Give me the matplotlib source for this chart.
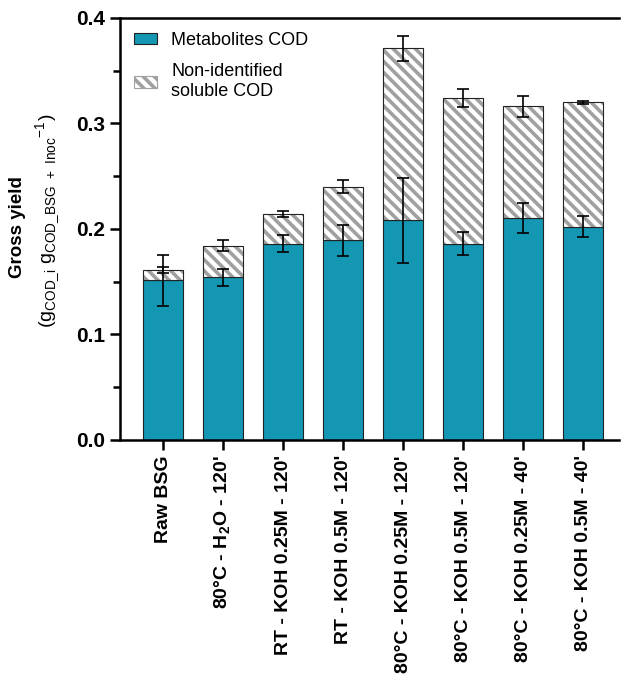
import matplotlib
matplotlib.use("Agg")
import matplotlib.pyplot as plt
from matplotlib.patches import Patch
import numpy as np

plt.rcParams['font.family'] = ['Liberation Sans', 'DejaVu Sans']
plt.rcParams['mathtext.fontset'] = 'custom'
plt.rcParams['mathtext.rm'] = 'Liberation Sans'
plt.rcParams['mathtext.bf'] = 'Liberation Sans:bold'
plt.rcParams['hatch.linewidth'] = 2.6

# data
categories = ["Raw BSG", r"80°C - H$_\mathbf{2}$O - 120'", "RT - KOH 0.25M - 120'",
              "RT - KOH 0.5M - 120'", "80°C - KOH 0.25M - 120'", "80°C - KOH 0.5M - 120'",
              "80°C - KOH 0.25M - 40'", "80°C - KOH 0.5M - 40'"]
metabolites = [0.151, 0.154, 0.186, 0.189, 0.208, 0.186, 0.210, 0.202]
metabolites_err = [0.024, 0.008, 0.008, 0.015, 0.040, 0.011, 0.014, 0.010]
total = [0.161, 0.184, 0.214, 0.240, 0.371, 0.324, 0.316, 0.320]
total_err = [0.003, 0.005, 0.003, 0.006, 0.012, 0.0085, 0.010, 0.0015]

non_identified = [t - m for t, m in zip(total, metabolites)]

fig = plt.figure(figsize=(6.24, 6.85), dpi=100)
ax = fig.add_axes([0.192, 0.358, 0.800, 0.616])

x = np.arange(len(categories))
w = 0.67
teal = '#1497b3'
hatch_gray = '#a0a0a0'

ax.bar(x, metabolites, width=w, color=teal, edgecolor='#222222', linewidth=0.8, zorder=2)
# hatched part: hatch takes the edge colour, so draw the dark outline separately
ax.bar(x, non_identified, width=w, bottom=metabolites, color='white', edgecolor=hatch_gray,
       linewidth=0, hatch='\\\\\\', zorder=2)
ax.bar(x, non_identified, width=w, bottom=metabolites, fill=False, edgecolor='#222222',
       linewidth=0.8, zorder=2.5)
ax.errorbar(x, metabolites, yerr=metabolites_err, fmt='none', ecolor='black',
            elinewidth=1.2, capsize=4, capthick=1.2, zorder=3)
ax.errorbar(x, total, yerr=total_err, fmt='none', ecolor='black',
            elinewidth=1.2, capsize=4, capthick=1.2, zorder=3)

ax.set_xlim(-0.72, 7.6)
ax.set_ylim(0, 0.4)
ax.set_yticks([0.0, 0.1, 0.2, 0.3, 0.4])
ax.set_yticks([0.05, 0.15, 0.25, 0.35], minor=True)
ax.set_yticklabels(['0.0', '0.1', '0.2', '0.3', '0.4'], fontsize=15, fontweight='bold')
ax.set_xticks(x)
ax.set_xticklabels(categories, rotation=90, fontsize=14, fontweight='bold')

for s in ['left', 'bottom', 'top']:
    ax.spines[s].set_linewidth(1.8)
ax.spines['right'].set_visible(False)
ax.tick_params(axis='both', which='major', direction='out', length=7, width=1.8)
ax.tick_params(axis='y', which='minor', direction='out', length=5, width=1.8)
ax.tick_params(axis='x', pad=4)

fig.text(0.028, 0.668, 'Gross yield', rotation=90, ha='center', va='center',
         fontsize=13.5, fontweight='bold')
fig.text(0.077, 0.677, r"(g$_{\mathrm{COD\_i}}$ g$_{\mathrm{COD\_BSG\ +\ Inoc}}$$^{\mathrm{-1}}$)",
         rotation=90, ha='center', va='center', fontsize=14)

handles = [Patch(facecolor=teal, edgecolor='#222222', linewidth=0.8),
           Patch(facecolor='white', edgecolor=hatch_gray, hatch='\\\\\\', linewidth=0.8)]
ax.legend(handles, ['Metabolites COD', 'Non-identified\nsoluble COD'], loc='upper left',
          frameon=False, fontsize=13, handlelength=1.3, handleheight=0.6,
          labelspacing=0.8, borderaxespad=0.5, handletextpad=0.8,
          bbox_to_anchor=(-0.005, 1.005))

fig.savefig('out.png', dpi=100)
